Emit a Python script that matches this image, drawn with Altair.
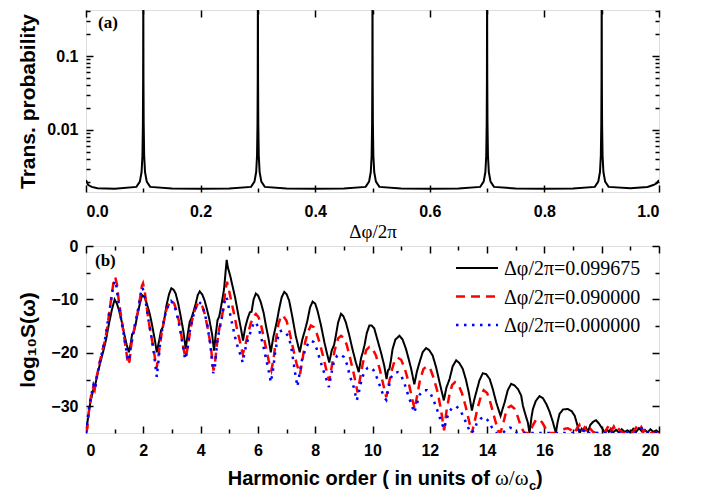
import altair as alt
import pandas as pd

# ---------------- Panel (a): transmission probability ----------------
top_x = [
    0.000, 0.004, 0.010, 0.020, 0.050,
    0.088, 0.094, 0.097, 0.0985, 0.0993, 0.0997, 0.1000, 0.1003, 0.1007, 0.1015, 0.103, 0.106, 0.112,
    0.150, 0.200, 0.250,
    0.288, 0.294, 0.297, 0.2985, 0.2993, 0.2997, 0.3000, 0.3003, 0.3007, 0.3015, 0.303, 0.306, 0.312,
    0.350, 0.400, 0.450,
    0.488, 0.494, 0.497, 0.4985, 0.4993, 0.4997, 0.5000, 0.5003, 0.5007, 0.5015, 0.503, 0.506, 0.512,
    0.550, 0.600, 0.650,
    0.688, 0.694, 0.697, 0.6985, 0.6993, 0.6997, 0.7000, 0.7003, 0.7007, 0.7015, 0.703, 0.706, 0.712,
    0.750, 0.800, 0.850,
    0.888, 0.894, 0.897, 0.8985, 0.8993, 0.8997, 0.9000, 0.9003, 0.9007, 0.9015, 0.903, 0.906, 0.912,
    0.950, 0.980, 0.990, 0.996, 1.000,
]
top_y = [
    0.0021, 0.0018, 0.0017, 0.00163, 0.0016,
    0.0017, 0.002, 0.0027, 0.0045, 0.012, 0.05, 1.0, 0.05, 0.012, 0.0045, 0.0027, 0.002, 0.0017,
    0.00162, 0.0016, 0.00162,
    0.0017, 0.002, 0.0027, 0.0045, 0.012, 0.05, 1.0, 0.05, 0.012, 0.0045, 0.0027, 0.002, 0.0017,
    0.00162, 0.0016, 0.00162,
    0.0017, 0.002, 0.0027, 0.0045, 0.012, 0.05, 1.0, 0.05, 0.012, 0.0045, 0.0027, 0.002, 0.0017,
    0.00162, 0.0016, 0.00162,
    0.0017, 0.002, 0.0027, 0.0045, 0.012, 0.05, 1.0, 0.05, 0.012, 0.0045, 0.0027, 0.002, 0.0017,
    0.00162, 0.0016, 0.00162,
    0.0017, 0.002, 0.0027, 0.0045, 0.012, 0.05, 1.0, 0.05, 0.012, 0.0045, 0.0027, 0.002, 0.0017,
    0.00163, 0.0017, 0.0018, 0.0019, 0.0021,
]

# ---------------- Panel (b): harmonic spectra ----------------
black_h = [
    0.0, 0.05, 0.15, 0.25, 0.33, 0.42, 0.5, 0.62, 0.7, 0.8, 0.9, 1.0, 1.08, 1.15, 1.25, 1.32, 1.42, 1.5,
    1.56, 1.61, 1.66, 1.72, 1.79, 1.88, 1.96, 2.05, 2.14, 2.23, 2.31, 2.4, 2.47, 2.55, 2.62, 2.68, 2.74,
    2.81, 2.9, 2.98, 3.06, 3.13, 3.22, 3.3, 3.4, 3.48, 3.55, 3.62, 3.68, 3.75, 3.83, 3.9, 3.97, 4.06,
    4.14, 4.22, 4.3, 4.4, 4.47, 4.53, 4.59, 4.65, 4.7, 4.76, 4.82, 4.87, 4.91, 4.95, 5.03, 5.11, 5.2,
    5.28, 5.34, 5.42, 5.48, 5.56, 5.64, 5.72, 5.78, 5.85, 5.93, 6.01, 6.1, 6.2, 6.28, 6.37, 6.45, 6.54,
    6.63, 6.68, 6.74, 6.83, 6.92, 7.0, 7.09, 7.2, 7.32, 7.46, 7.55, 7.62, 7.68, 7.73, 7.82, 7.91, 8.0,
    8.08, 8.2, 8.32, 8.42, 8.49, 8.58, 8.66, 8.72, 8.8, 8.9, 8.98, 9.07, 9.18, 9.3, 9.42, 9.52, 9.6,
    9.66, 9.72, 9.8, 9.89, 9.97, 10.06, 10.18, 10.3, 10.41, 10.49, 10.54, 10.59, 10.64, 10.7, 10.8,
    10.94, 11.05, 11.17, 11.27, 11.35, 11.46, 11.55, 11.64, 11.75, 11.87, 11.98, 12.1, 12.22, 12.34,
    12.49, 12.58, 12.69, 12.8, 12.92, 13.03, 13.15, 13.26, 13.36, 13.47, 13.55, 13.62, 13.73, 13.85,
    13.97, 14.09, 14.2, 14.32, 14.47, 14.54, 14.61, 14.72, 14.84, 14.96, 15.08, 15.19, 15.25, 15.35,
    15.42, 15.48, 15.55, 15.6, 15.7, 15.83, 15.95, 16.07, 16.18, 16.3, 16.4, 16.46, 16.53, 16.65,
    16.82, 16.95, 17.06, 17.17, 17.23, 17.3, 17.38, 17.45, 17.52, 17.6, 17.7, 17.8, 17.9, 18.0, 18.05,
    18.12, 18.18, 18.25, 18.32, 18.4, 18.5, 18.6, 18.7, 18.8, 18.9, 19.0, 19.1, 19.2, 19.3, 19.4, 19.5,
    19.6, 19.7, 19.8, 19.9, 20.0,
]
black_v = [
    -35, -33, -29.3, -27, -25.8, -23.5, -21.8, -19.3, -17.5, -14.6, -12, -10, -10.8, -12, -14.2, -16.1, -18.5, -19.9,
    -18.3, -16.5, -16.2, -15, -13, -10.8, -9.2, -9.6, -11.1, -12.8, -14.9, -17.5, -19.9, -17.8, -15.8, -15.2, -13.5,
    -11.1, -9, -7.9, -8.2, -8.9, -10.8, -13, -16, -19.3, -16.5, -14.2, -13.5, -12.3, -10.8, -9.2, -8.5, -9.1,
    -10.2, -11.8, -13.6, -16.5, -19.6, -16.5, -13.9, -13.2, -11.8, -10, -8, -5, -2.6, -4, -5.5, -7.4, -9.5,
    -11.8, -13.6, -15.8, -17.7, -15.2, -13.6, -12.4, -12.3, -10, -8.9, -9.3, -10.5, -12.5, -14.9, -17.3, -19.9, -17,
    -14.9, -13.6, -11.8, -9.6, -8.6, -9, -10.2, -13.2, -16.8, -19.9, -17.5, -16.2, -15, -13.9, -11.5, -10.4, -10.8,
    -12.1, -14.8, -18, -20.3, -21.8, -19.5, -18.5, -16.8, -14.3, -12.7, -13.1, -14.3, -16.5, -19.3, -21.8, -23.6, -21,
    -19.9, -18.6, -16.3, -14.9, -14.9, -15.4, -17.7, -20, -22.4, -24.9, -23.3, -23, -21.5, -19.3, -17.5,
    -16.8, -17.5, -19.3, -21.3, -23, -25.9, -23.5, -21.8, -19.9, -19.1, -19.5, -20.5, -22.7, -25.5,
    -28.9, -26.5, -24.9, -22.5, -21.4, -21.9, -23, -25, -27.4, -30.8, -28.8, -27.4, -25.2, -23.8,
    -24, -24.9, -26.8, -29.3, -31.8, -30.5, -29.3, -27, -25.8, -26.1, -26.8, -28, -29.9, -31.8,
    -33, -35, -32, -30.5, -29, -28.1, -28.5, -29.6, -31, -33, -35, -33, -31.4, -30.6,
    -30.5, -30.9, -31.8, -33.9, -35, -34.2, -34.6, -34.0, -34.8, -33.5, -32.9, -32.6, -33.2, -34, -34.4,
    -35, -34.3, -34.8, -34.2, -34.9, -34.4, -34.9, -34.3, -34.8, -34.5, -34.9, -34.2, -34.8, -34.1, -34.7, -34.4,
    -34.9, -34.3, -34.8, -34.5, -34.9,
]

red_h = [
    0.0, 0.05, 0.1, 0.18, 0.25, 0.3, 0.35, 0.45, 0.55, 0.65, 0.72, 0.8, 0.9, 0.97, 1.02, 1.08, 1.15, 1.25,
    1.33, 1.4, 1.47, 1.52, 1.58, 1.65, 1.72, 1.8, 1.88, 1.95, 1.99, 2.05, 2.12, 2.2, 2.3, 2.38, 2.46, 2.52,
    2.58, 2.65, 2.72, 2.8, 2.9, 2.98, 3.08, 3.18, 3.28, 3.38, 3.47, 3.55, 3.62, 3.7, 3.8, 3.9, 3.97, 4.06,
    4.15, 4.25, 4.35, 4.45, 4.5, 4.58, 4.65, 4.72, 4.8, 4.86, 4.92, 4.98, 5.08, 5.18, 5.28, 5.38, 5.47,
    5.55, 5.65, 5.75, 5.85, 5.93, 6.02, 6.12, 6.22, 6.32, 6.42, 6.47, 6.55, 6.63, 6.72, 6.82, 6.9, 7.0,
    7.1, 7.22, 7.35, 7.47, 7.55, 7.65, 7.75, 7.85, 7.95, 8.05, 8.15, 8.27, 8.38, 8.49, 8.58, 8.68, 8.8,
    8.9, 9.0, 9.1, 9.22, 9.35, 9.48, 9.56, 9.66, 9.78, 9.89, 10.0, 10.12, 10.25, 10.38, 10.48, 10.56,
    10.66, 10.77, 10.88, 11.0, 11.12, 11.25, 11.38, 11.47, 11.56, 11.66, 11.78, 11.9, 12.02, 12.14,
    12.28, 12.4, 12.5, 12.58, 12.68, 12.78, 12.88, 13.0, 13.12, 13.25, 13.38, 13.47, 13.56, 13.66,
    13.78, 13.88, 14.0, 14.12, 14.25, 14.38, 14.46, 14.55, 14.65, 14.75, 14.84, 14.95, 15.06, 15.18,
    15.3, 15.48, 15.6, 15.7, 15.8, 15.92, 16.05, 16.15, 16.45, 16.6, 16.72, 16.82, 16.95, 17.05, 17.15,
    17.22, 17.3, 17.4, 17.5, 17.6, 17.7, 17.8, 18.1, 18.2, 18.28, 18.35, 18.42, 18.5, 18.6, 18.75, 19.1,
    19.2, 19.3, 19.38, 19.45, 19.55, 19.7, 20.0,
]
red_v = [
    -35, -34, -31, -28, -26.5, -27, -25, -22.5, -20, -18, -16, -13, -9, -6.5, -5.8, -7.2, -10.5, -14,
    -17, -19.5, -22.2, -21.5, -18.5, -16.5, -14.5, -12.5, -10, -7.5, -7.0, -8.5, -11.5, -14.5, -17.5, -20, -23, -21,
    -18.5, -16, -14, -12, -10.8, -10.2, -10.8, -12.5, -15, -18.5, -21, -19, -16.5, -14, -12, -10.8, -10.6, -11.3,
    -12.8, -15.5, -18.5, -23.3, -22, -18, -15.5, -14, -11.5, -8.5, -6.7, -8, -10.5, -13, -15.8, -18, -20.2,
    -18.8, -16.5, -14.5, -13.2, -12.7, -13.3, -15, -17.5, -20, -22.5, -23.3, -21, -17.5, -14.5, -13, -13.2, -14,
    -16, -19, -22, -24, -21.5, -18, -16, -14.9, -15.2, -16.3, -18, -20.5, -23, -25.2, -22.5, -19.5, -17.3,
    -16.8, -17.2, -18.5, -21, -24, -27.4, -25, -22, -19.5, -18.9, -19.2, -20.5, -23, -26, -28.3, -26,
    -23.5, -21.5, -20.9, -21.3, -22.8, -25.3, -28.5, -30.5, -28, -25, -23, -22.5, -23, -24.8,
    -27.5, -31, -34.5, -31, -28, -26, -25.5, -26, -27.5, -30, -33, -35, -33, -30.5,
    -28.2, -27, -27.5, -29.4, -32, -34.5, -35, -33.5, -31.3, -30.2, -29.9, -30.4, -31.8, -33.8,
    -35, -35, -33.5, -32.6, -32.4, -33, -34.2, -35, -35, -34.5, -34.2, -34.1, -34.5, -35, -34,
    -33.5, -34.8, -34, -34.9, -34.2, -34.8, -35, -35, -34, -33.4, -34.5, -33.8, -34.8, -34.3, -35, -34.8,
    -34, -34.6, -33.9, -34.8, -34.3, -35, -35,
]

blue_h = [
    0.0, 0.04, 0.1, 0.18, 0.26, 0.32, 0.38, 0.48, 0.58, 0.68, 0.78, 0.88, 0.95, 1.0, 1.06, 1.12, 1.22, 1.3,
    1.38, 1.46, 1.52, 1.6, 1.68, 1.76, 1.85, 1.92, 1.97, 2.03, 2.1, 2.2, 2.3, 2.38, 2.47, 2.53, 2.6, 2.68,
    2.78, 2.88, 2.97, 3.06, 3.16, 3.26, 3.36, 3.46, 3.54, 3.62, 3.7, 3.8, 3.88, 3.95, 4.04, 4.14, 4.24,
    4.34, 4.44, 4.5, 4.58, 4.66, 4.74, 4.8, 4.87, 4.93, 5.0, 5.1, 5.2, 5.3, 5.4, 5.47, 5.55, 5.65, 5.75,
    5.84, 5.9, 6.0, 6.1, 6.2, 6.3, 6.4, 6.45, 6.52, 6.6, 6.68, 6.76, 6.85, 6.95, 7.05, 7.15, 7.25, 7.32,
    7.38, 7.45, 7.55, 7.65, 7.75, 7.85, 7.95, 8.05, 8.15, 8.28, 8.38, 8.48, 8.56, 8.66, 8.77, 8.88, 9.0,
    9.1, 9.22, 9.35, 9.45, 9.52, 9.62, 9.72, 9.83, 9.93, 10.03, 10.15, 10.28, 10.4, 10.48, 10.56, 10.66,
    10.77, 10.88, 11.0, 11.12, 11.25, 11.38, 11.46, 11.55, 11.65, 11.78, 11.9, 12.02, 12.14, 12.28, 12.4,
    12.5, 12.58, 12.68, 12.8, 12.92, 13.05, 13.18, 13.3, 13.42, 13.55, 13.65, 13.78, 13.9, 14.02, 14.15,
    14.3, 14.55, 14.68, 14.8, 14.92, 15.05, 17.15, 17.22, 17.3, 17.4, 17.5, 18.2, 18.28, 18.35, 19.2,
    19.3, 19.4, 19.5, 20.0,
]
blue_v = [
    -35, -33, -30.5, -28, -26, -26.8, -24.5, -21.8, -19.5, -17, -13.5, -10, -7.5, -6.5, -7.5, -10, -13.5, -16,
    -18.5, -21.5, -20.8, -17.5, -15.5, -13.5, -11, -8.5, -7.8, -8.8, -11, -14.5, -17.5, -20.5, -24.5, -21.5, -17.5, -15,
    -12.5, -11, -10.3, -10.8, -12.5, -15, -18, -21.2, -19.5, -16, -14, -12, -11, -10.5, -11, -12.5, -15,
    -18.5, -23.8, -22.5, -18, -15.5, -13.5, -11.5, -9.5, -10, -12, -14.5, -17, -19, -20.5, -21.8, -19.5, -17.5, -16,
    -14.6, -14.2, -15, -16.8, -19, -21.5, -24, -25.5, -23.5, -20, -17.5, -16, -15.8, -16.2, -16.8, -18.5, -22, -24.5,
    -26.3, -24, -21, -19.5, -18.3, -17.7, -18, -19.2, -21, -23.2, -24.8, -26.4, -24, -21.5, -20.5, -20.3, -20.8,
    -22, -24.5, -26.5, -28.9, -27.5, -25, -23.5, -22.8, -22.7, -23.2, -24.6, -26.5, -28.3, -28.8, -26.5, -24.5,
    -23.8, -23.6, -24.2, -25.8, -28, -30, -31.2, -29.5, -27.8, -27, -27, -27.5, -29, -31, -33,
    -34.2, -32.5, -31, -30.2, -30, -30.6, -32, -33.5, -35, -34.5, -33, -32.3, -32, -32.6, -33.8,
    -35, -35, -34.3, -34, -34.2, -35, -35, -34.2, -34.8, -34.3, -35, -35, -34.5, -34.8, -35,
    -34.5, -34.1, -34.8, -35,
]

series_names = ["Δφ/2π=0.099675", "Δφ/2π=0.090000", "Δφ/2π=0.000000"]
series_colors = ["black", "red", "blue"]
series_dash = [[1, 0], [9, 6], [2.5, 5.5]]
series_width = [2, 2.5, 2.5]

# tick positions
top_x_major = [0.0, 0.2, 0.4, 0.6, 0.8, 1.0]
top_x_minor = [0.1, 0.3, 0.5, 0.7, 0.9]
top_y_major = [0.01, 0.1]
top_y_minor = [0.002, 0.003, 0.004, 0.005, 0.006, 0.007, 0.008, 0.009,
               0.02, 0.03, 0.04, 0.05, 0.06, 0.07, 0.08, 0.09, 0.2, 0.3, 0.4]
bot_x_major = [0, 2, 4, 6, 8, 10, 12, 14, 16, 18, 20]
bot_x_minor = [1, 3, 5, 7, 9, 11, 13, 15, 17, 19]
bot_y_major = [-30, -20, -10, 0]
bot_y_minor = [-25, -15, -5]

SANS = "Liberation Sans"
SERIF = "Liberation Serif"
W = 573
H_TOP = 182
H_BOT = 187
MAJ = 7
MIN = 4


def axis(orient, values, size, labels=False, **kw):
    return alt.Axis(orient=orient, values=values, tickSize=size, offset=-size,
                    labels=labels, domain=False, grid=False, ticks=True,
                    tickColor="black", tickWidth=1.5, **kw)


lab_kw = dict(labelFont=SANS, labelFontWeight="bold", labelFontSize=16, labelColor="black")

# ---------------- top panel ----------------
top_df = pd.DataFrame({"x": top_x, "y": top_y})
xs_top = alt.Scale(domain=[0, 1], nice=False, zero=False)
ys_top = alt.Scale(type="log", domain=[0.00145, 0.419], nice=False)

top_main = alt.Chart(top_df).mark_line(color="black", strokeWidth=2, clip=True).encode(
    x=alt.X("x:Q", scale=xs_top,
            axis=axis("bottom", top_x_major, MAJ, labels=True, format=".1f", labelPadding=11,
                      title="Δφ/2π", titleFont=SERIF, titleFontWeight="normal", titleFontSize=19,
                      titlePadding=3, titleColor="black", **lab_kw)),
    y=alt.Y("y:Q", scale=ys_top,
            axis=axis("left", top_y_major, MAJ, labels=True, format="~g", labelPadding=8,
                      title="Trans. probability", titleFont=SANS, titleFontWeight="bold",
                      titleFontSize=21, titlePadding=8, titleColor="black", **lab_kw)),
)


def ghost(df, xf, yf, xs, ys, xaxis, yaxis):
    return alt.Chart(df).mark_line(opacity=0, clip=True).encode(
        x=alt.X(xf, scale=xs, axis=xaxis, title=None),
        y=alt.Y(yf, scale=ys, axis=yaxis, title=None),
    )


top_g1 = ghost(top_df, "x:Q", "y:Q", xs_top, ys_top,
               axis("bottom", top_x_minor, MIN), axis("left", top_y_minor, MIN))
top_g2 = ghost(top_df, "x:Q", "y:Q", xs_top, ys_top,
               axis("top", top_x_major, MAJ), axis("right", top_y_major, MAJ))
top_g3 = ghost(top_df, "x:Q", "y:Q", xs_top, ys_top,
               axis("top", top_x_minor, MIN), axis("right", top_y_minor, MIN))

label_a = alt.Chart(top_df.head(1)).mark_text(
    font=SERIF, fontWeight="bold", fontSize=17, align="left", baseline="middle", color="black"
).encode(x=alt.value(12), y=alt.value(13), text=alt.value("(a)"))

top = alt.layer(top_main, top_g1, top_g2, top_g3, label_a).resolve_axis(
    x="independent", y="independent").properties(width=W, height=H_TOP)

# ---------------- bottom panel ----------------
frames = []
for name, hh, vv in [(series_names[0], black_h, black_v),
                     (series_names[1], red_h, red_v),
                     (series_names[2], blue_h, blue_v)]:
    frames.append(pd.DataFrame({"h": hh, "v": vv, "series": name, "idx": range(len(hh))}))
bot_df = pd.concat(frames, ignore_index=True)

xs_bot = alt.Scale(domain=[0, 20], nice=False, zero=False)
ys_bot = alt.Scale(domain=[-35, 0], nice=False, zero=False)

color_enc = alt.Color("series:N", scale=alt.Scale(domain=series_names, range=series_colors), legend=None)
dash_enc = alt.StrokeDash("series:N", scale=alt.Scale(domain=series_names, range=series_dash), legend=None)

bot_layers = []
for i, name in enumerate(series_names):
    if i == 0:
        enc_x = alt.X("h:Q", scale=xs_bot,
                      axis=axis("bottom", bot_x_major, MAJ, labels=True, labelPadding=9, title=None, **lab_kw))
        enc_y = alt.Y("v:Q", scale=ys_bot,
                      axis=axis("left", bot_y_major, MAJ, labels=True, labelPadding=8, title="log₁₀S(ω)",
                                titleFont=SANS, titleFontWeight="bold", titleFontSize=21, titlePadding=12,
                                titleColor="black", **lab_kw))
    else:
        enc_x = alt.X("h:Q", scale=xs_bot, axis=None)
        enc_y = alt.Y("v:Q", scale=ys_bot, axis=None)
    bot_layers.append(
        alt.Chart(bot_df).transform_filter(alt.datum.series == name).mark_line(
            strokeWidth=series_width[i], clip=True).encode(
            x=enc_x, y=enc_y, color=color_enc, strokeDash=dash_enc, order="idx:Q")
    )

bot_g1 = ghost(bot_df, "h:Q", "v:Q", xs_bot, ys_bot,
               axis("bottom", bot_x_minor, MIN), axis("left", bot_y_minor, MIN))
bot_g2 = ghost(bot_df, "h:Q", "v:Q", xs_bot, ys_bot,
               axis("top", bot_x_major, MAJ), axis("right", bot_y_major, MAJ))
bot_g3 = ghost(bot_df, "h:Q", "v:Q", xs_bot, ys_bot,
               axis("top", bot_x_minor, MIN), axis("right", bot_y_minor, MIN))

one = bot_df.head(1)

# manual legend (positions are layout, not data)
legend_layers = []
leg_rows = [22, 50.5, 79]
for i, name in enumerate(series_names):
    legend_layers.append(
        alt.Chart(one).mark_rule(color=series_colors[i], strokeWidth=series_width[i],
                                 strokeDash=series_dash[i]).encode(
            x=alt.value(370), x2=alt.value(412), y=alt.value(leg_rows[i])))
    legend_layers.append(
        alt.Chart(one).mark_text(font=SERIF, fontSize=20, align="left", baseline="middle",
                                 color="black").encode(
            x=alt.value(418), y=alt.value(leg_rows[i] + 1), text=alt.value(name)))

label_b = alt.Chart(one).mark_text(
    font=SERIF, fontWeight="bold", fontSize=17, align="left", baseline="middle", color="black"
).encode(x=alt.value(9), y=alt.value(15), text=alt.value("(b)"))

title_a = alt.Chart(one).mark_text(font=SANS, fontWeight="bold", fontSize=20, align="right",
                                   baseline="middle", color="black").encode(
    x=alt.value(404), y=alt.value(233), text=alt.value("Harmonic order ( in units of"))
title_b = alt.Chart(one).mark_text(font=SERIF, fontSize=21, align="left",
                                   baseline="middle", color="black").encode(
    x=alt.value(409), y=alt.value(233), text=alt.value("ω/ω"))
title_c = alt.Chart(one).mark_text(font=SANS, fontWeight="bold", fontSize=13, align="left",
                                   baseline="middle", color="black").encode(
    x=alt.value(443), y=alt.value(240), text=alt.value("c"))
title_d = alt.Chart(one).mark_text(font=SANS, fontWeight="bold", fontSize=20, align="left",
                                   baseline="middle", color="black").encode(
    x=alt.value(450), y=alt.value(233), text=alt.value(")"))

bottom = alt.layer(*bot_layers, bot_g1, bot_g2, bot_g3, label_b, *legend_layers,
                   title_a, title_b, title_c, title_d).resolve_axis(
    x="independent", y="independent").properties(width=W, height=H_BOT)

chart = alt.vconcat(top, bottom, spacing=54, bounds="flush").properties(
    padding={"left": 9, "top": 0, "right": 0, "bottom": 0}
).configure_view(stroke="black", strokeWidth=2).configure(background="white")

chart.save("out.html", embed_options={"renderer": "svg", "actions": False})
